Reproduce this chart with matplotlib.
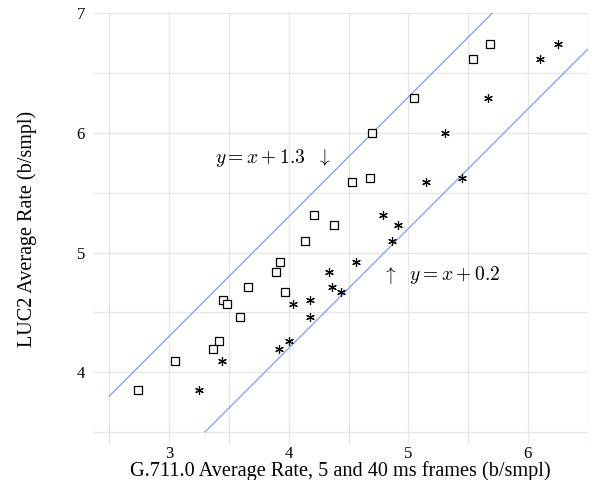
import numpy as np
import matplotlib
matplotlib.use("Agg")
import matplotlib.pyplot as plt

# LUC2 rate vs G.711.0 rate, one point per file for each frame length
luc2_rate = [6.74, 6.62, 6.29, 6.00, 5.62, 5.59, 5.31, 5.23, 5.10, 4.92,
             4.84, 4.71, 4.67, 4.60, 4.57, 4.46, 4.26, 4.19, 4.09, 3.85]
g711_5ms = [5.68, 5.54, 5.05, 4.70, 4.68, 4.53, 4.21, 4.38, 4.14, 3.93,
            3.89, 3.66, 3.97, 3.45, 3.48, 3.59, 3.42, 3.37, 3.05, 2.74]
g711_40ms = [6.25, 6.10, 5.67, 5.31, 5.45, 5.15, 4.79, 4.91, 4.86, 4.56,
             4.34, 4.36, 4.44, 4.18, 4.04, 4.18, 4.00, 3.92, 3.44, 3.25]

# reference lines y = x + offset, over the drawn x range
upper_offset = 1.3
upper_x = [2.5, 5.7]
lower_offset = 0.2
lower_x = [3.3, 6.5]

x_ticks = [2.5, 3, 3.5, 4, 4.5, 5, 5.5, 6, 6.5]
y_ticks = [3.5, 4, 4.5, 5, 5.5, 6, 6.5, 7]

plt.rcParams['font.family'] = ['Liberation Serif', 'DejaVu Serif']
plt.rcParams['mathtext.fontset'] = 'cm'

fig = plt.figure(figsize=(5.92, 4.8), dpi=100)
ax = fig.add_axes([92.7 / 592, 35 / 480, 495 / 592, 431.7 / 480])

line_col = '#7b9ff0'
ax.plot(upper_x, [v + upper_offset for v in upper_x], color=line_col, lw=0.9, zorder=2)
ax.plot(lower_x, [v + lower_offset for v in lower_x], color=line_col, lw=0.9, zorder=2)

ax.plot(g711_5ms, luc2_rate, linestyle='none', marker='s', markersize=5.2,
        markerfacecolor='white', markeredgecolor='black', markeredgewidth=0.9, zorder=3)
ax.plot(g711_40ms, luc2_rate, linestyle='none', marker=(6, 2, 0), markersize=6.2,
        markeredgecolor='black', markeredgewidth=0.85, zorder=3)

ax.text(4.35, 5.79, r'$y = x + 1.3\ \ \downarrow$', fontsize=14, ha='right', va='center')
ax.text(4.78, 4.81, r'$\uparrow\ \ y = x + 0.2$', fontsize=14, ha='left', va='center')

ax.set_xlim(2.361, 6.5)
ax.set_ylim(3.391, 7)
ax.set_xticks(x_ticks)
ax.set_xticklabels([f'{int(t)}' if t == int(t) else '' for t in x_ticks])
ax.set_yticks(y_ticks)
ax.set_yticklabels([f'{int(t)}' if t == int(t) else '' for t in y_ticks])
ax.tick_params(length=0, labelsize=12)
ax.tick_params(axis='x', pad=1)
ax.tick_params(axis='y', pad=5.5)
ax.grid(True, color='#e6e6e6', lw=1)
ax.set_axisbelow(True)
for s in ax.spines.values():
    s.set_visible(False)

ax.set_xlabel('G.711.0 Average Rate, 5 and 40 ms frames (b/smpl)', fontsize=14.6)
ax.set_ylabel('LUC2 Average Rate (b/smpl)', fontsize=14.5)
ax.xaxis.set_label_coords(0.5, -0.037)
ax.yaxis.set_label_coords(-0.113, 0.5)

fig.savefig('out.png', dpi=100)
